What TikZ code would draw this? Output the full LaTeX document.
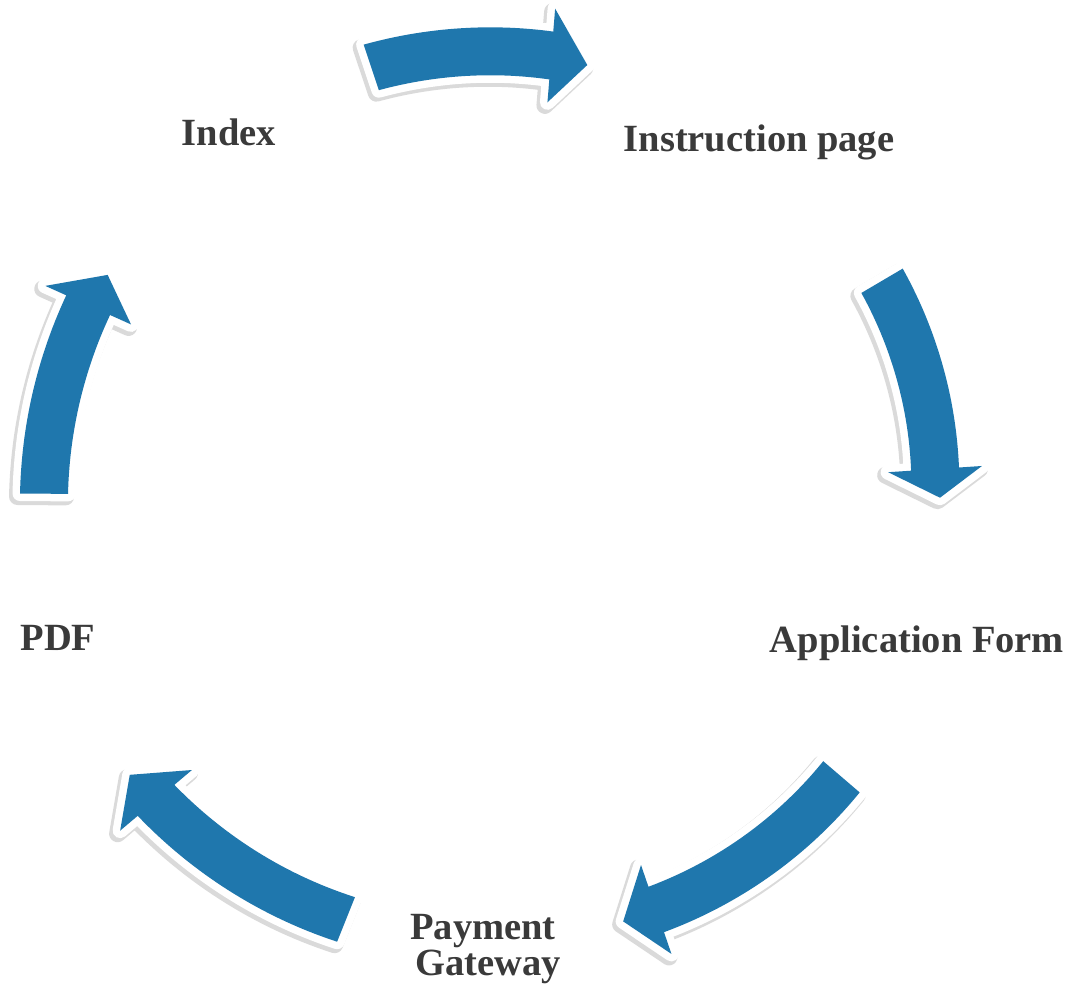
\documentclass[tikz,border=0pt]{standalone}
\usepackage{fontspec}
\setmainfont{Liberation Serif}
\definecolor{arrowblue}{RGB}{31,119,173}
\definecolor{labelgray}{RGB}{58,58,58}
\definecolor{edgegray}{RGB}{218,218,218}
\def\aw{24}
\def\ah{47}
% #1 tail angle, #2 head-base angle, #3 tip angle, #4 tail radius, #5 base radius, #6 tip radius
\newcommand{\arrowpath}[6]{%
  plot[domain=#1:#2, samples=30] (\x:{#4+(#5-#4)*(\x-(#1))/((#2)-(#1))+\aw})
  -- (#2:{#5+\ah}) -- (#3:#6) -- (#2:{#5-\ah})
  -- plot[domain=#2:#1, samples=30] (\x:{#4+(#5-#4)*(\x-(#1))/((#2)-(#1))-\aw}) -- cycle}
\newcommand{\cyclearrow}[6]{%
  \path[fill=edgegray, draw=edgegray, line width=17pt, line join=round, shift={(-2.5,-3)}] \arrowpath{#1}{#2}{#3}{#4}{#5}{#6};
  \path[fill=white, draw=white, line width=15pt, line join=round] \arrowpath{#1}{#2}{#3}{#4}{#5}{#6};
  \path[fill=arrowblue] \arrowpath{#1}{#2}{#3}{#4}{#5}{#6};
}
\begin{document}
\begin{tikzpicture}[x=1pt,y=1pt,
  lbl/.style={font=\fontsize{38.5}{36}\selectfont\bfseries, text=labelgray, inner sep=0pt, anchor=base}]
\useasboundingbox (0,0) rectangle (1072,992);
\coordinate (C) at (515,495);
\begin{scope}[shift={(C)}]
  \cyclearrow{108.5}{85.3}{80.5}{453}{443}{438}
  \cyclearrow{30.5}{3.8}{-0.1}{426}{421}{425}
  \cyclearrow{-40.6}{-71.1}{-75.7}{430}{436}{438}
  \cyclearrow{248.2}{220.2}{215.8}{455}{470}{475}
  \cyclearrow{179.6}{155.8}{151.4}{471}{468}{464}
\end{scope}
\node[lbl] (index) at (229,846) {Index};
\node[lbl] (instr) at (759,840) {Instruction page};
\node[lbl] (appl) at (917,339) {Application Form};
\node[lbl] (pay) at (483,52) {Payment};
\node[lbl] (gate) at (488,16) {Gateway};
\node[lbl] (pdf) at (58,341) {PDF};
\end{tikzpicture}
\end{document}
